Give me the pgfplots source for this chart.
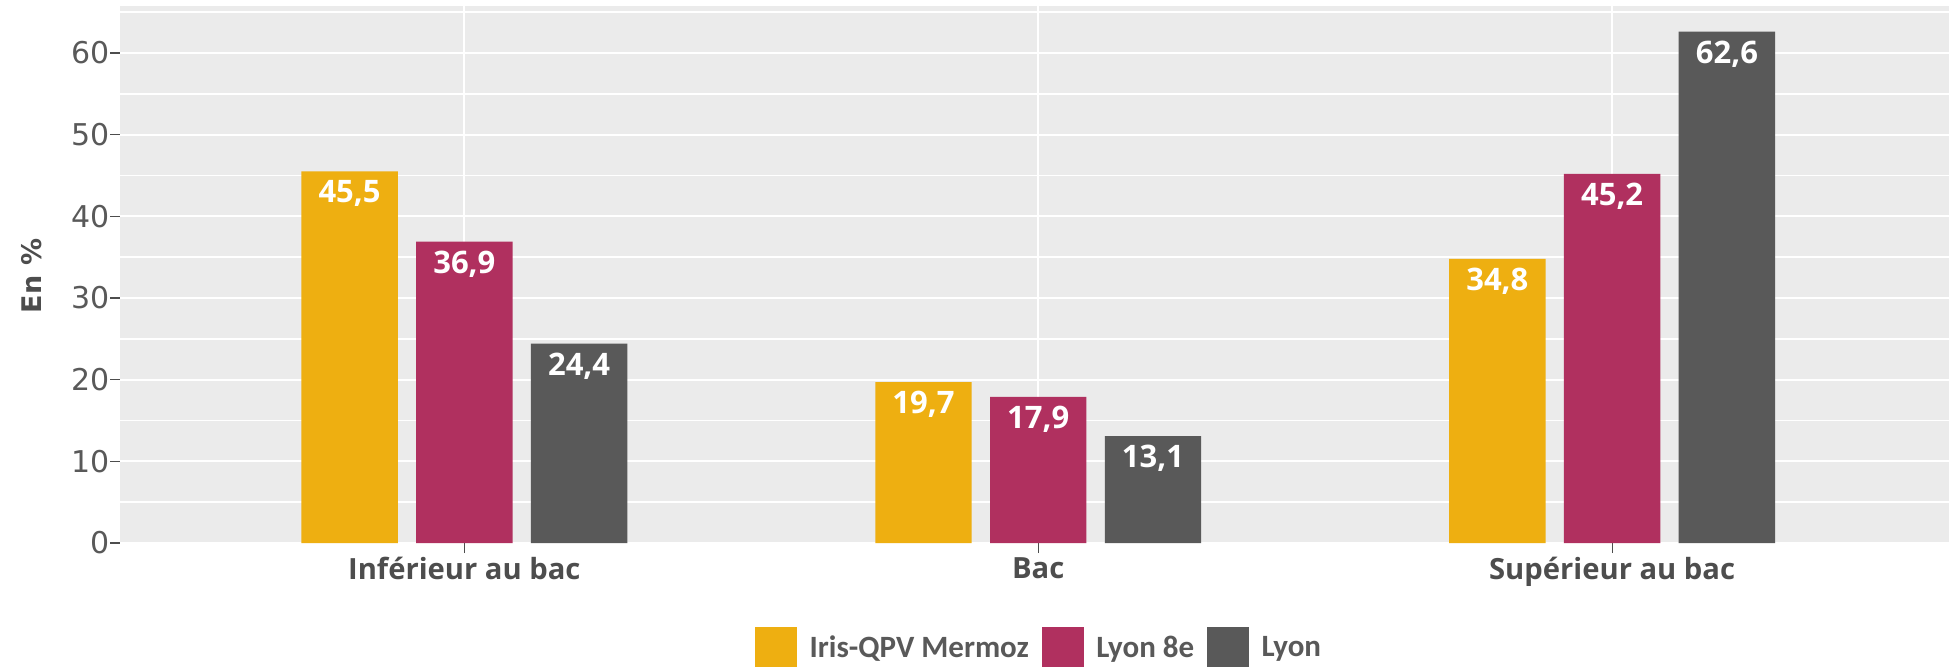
\documentclass[border=0pt]{standalone}
\usepackage{fontspec}
\usepackage{pgfplots}
\pgfplotsset{compat=1.18}
\newfontfamily\dejavu{DejaVu Sans}
\newfontfamily\opensans{Open Sans}
\newfontfamily\carlito{Carlito}
\definecolor{cyel}{HTML}{EEAF11}
\definecolor{cmag}{HTML}{B0305F}
\definecolor{cgry}{HTML}{595959}
\definecolor{panel}{HTML}{EBEBEB}
\definecolor{txtg}{HTML}{595959}
\definecolor{txtd}{HTML}{4D4D4D}
\begin{document}
\begin{tikzpicture}
\useasboundingbox (0,0) rectangle (974.5pt,333pt);
\begin{axis}[
  at={(60pt,61.5pt)}, anchor=south west,
  width=914.5pt, height=268.3pt, scale only axis,
  xmin=-0.6, xmax=2.587, ymin=0, ymax=65.7,
  ybar, bar width=0.168,
  axis background/.style={fill=panel},
  axis line style={draw=none},
  xtick={0,1,2},
  xticklabels={Inférieur au bac, Bac, Supérieur au bac},
  ytick={0,10,...,60},
  yticklabel={\dejavu\fontsize{15}{18}\selectfont\pgfmathprintnumber[assume math mode=true]{\tick}},
  minor ytick={5,15,...,65},
  minor tick length=0pt,
  major tick length=5pt,
  tick align=outside, tick pos=left,
  tick style={draw=txtd, line width=0.6pt},
  xmajorgrids, ymajorgrids, yminorgrids,
  major grid style={draw=white, line width=1pt},
  minor grid style={draw=white, line width=0.8pt},
  /pgf/number format/assume math mode=true,
  yticklabel style={text=txtg, inner sep=0pt, xshift=0pt},
  xticklabel style={font=\opensans\bfseries\fontsize{14.6}{18}\selectfont, text=txtd, inner sep=0pt, yshift=-2pt},
  ylabel={\dejavu\bfseries\fontsize{13.5}{16}\selectfont En \%},
  ylabel style={at={(axis description cs:-0.0481,0.4976)}, anchor=center, text=txtd},
  nodes near coords={\pgfmathprintnumber[fixed,fixed zerofill,precision=1,use comma,assume math mode=true]{\pgfplotspointmeta}},
  every node near coord/.append style={anchor=north, inner sep=0pt, yshift=-4.5pt, text=white, font=\opensans\bfseries\fontsize{15.5}{18}\selectfont},
  legend columns=3,
  legend cell align=left,
  legend style={at={(0.502,-0.1957)}, anchor=center, draw=none, fill=none,
    font=\carlito\bfseries\fontsize{15.5}{18}\selectfont, text=txtg,
    nodes={inner sep=0pt},
    /tikz/every odd column/.style={column sep=6.2pt},
    /tikz/every even column/.style={column sep=6.5pt}},
  legend image code/.code={\fill[#1] (0pt,-10.5pt) rectangle (21pt,10.5pt);},
]
\addplot[fill=cyel, draw=none, bar shift=-0.2] coordinates {(0,45.5) (1,19.7) (2,34.8)};
\addplot[fill=cmag, draw=none, bar shift=0] coordinates {(0,36.9) (1,17.9) (2,45.2)};
\addplot[fill=cgry, draw=none, bar shift=0.2] coordinates {(0,24.4) (1,13.1) (2,62.6)};
\legend{Iris-QPV Mermoz, Lyon 8e, Lyon}
\end{axis}
\end{tikzpicture}
\end{document}
